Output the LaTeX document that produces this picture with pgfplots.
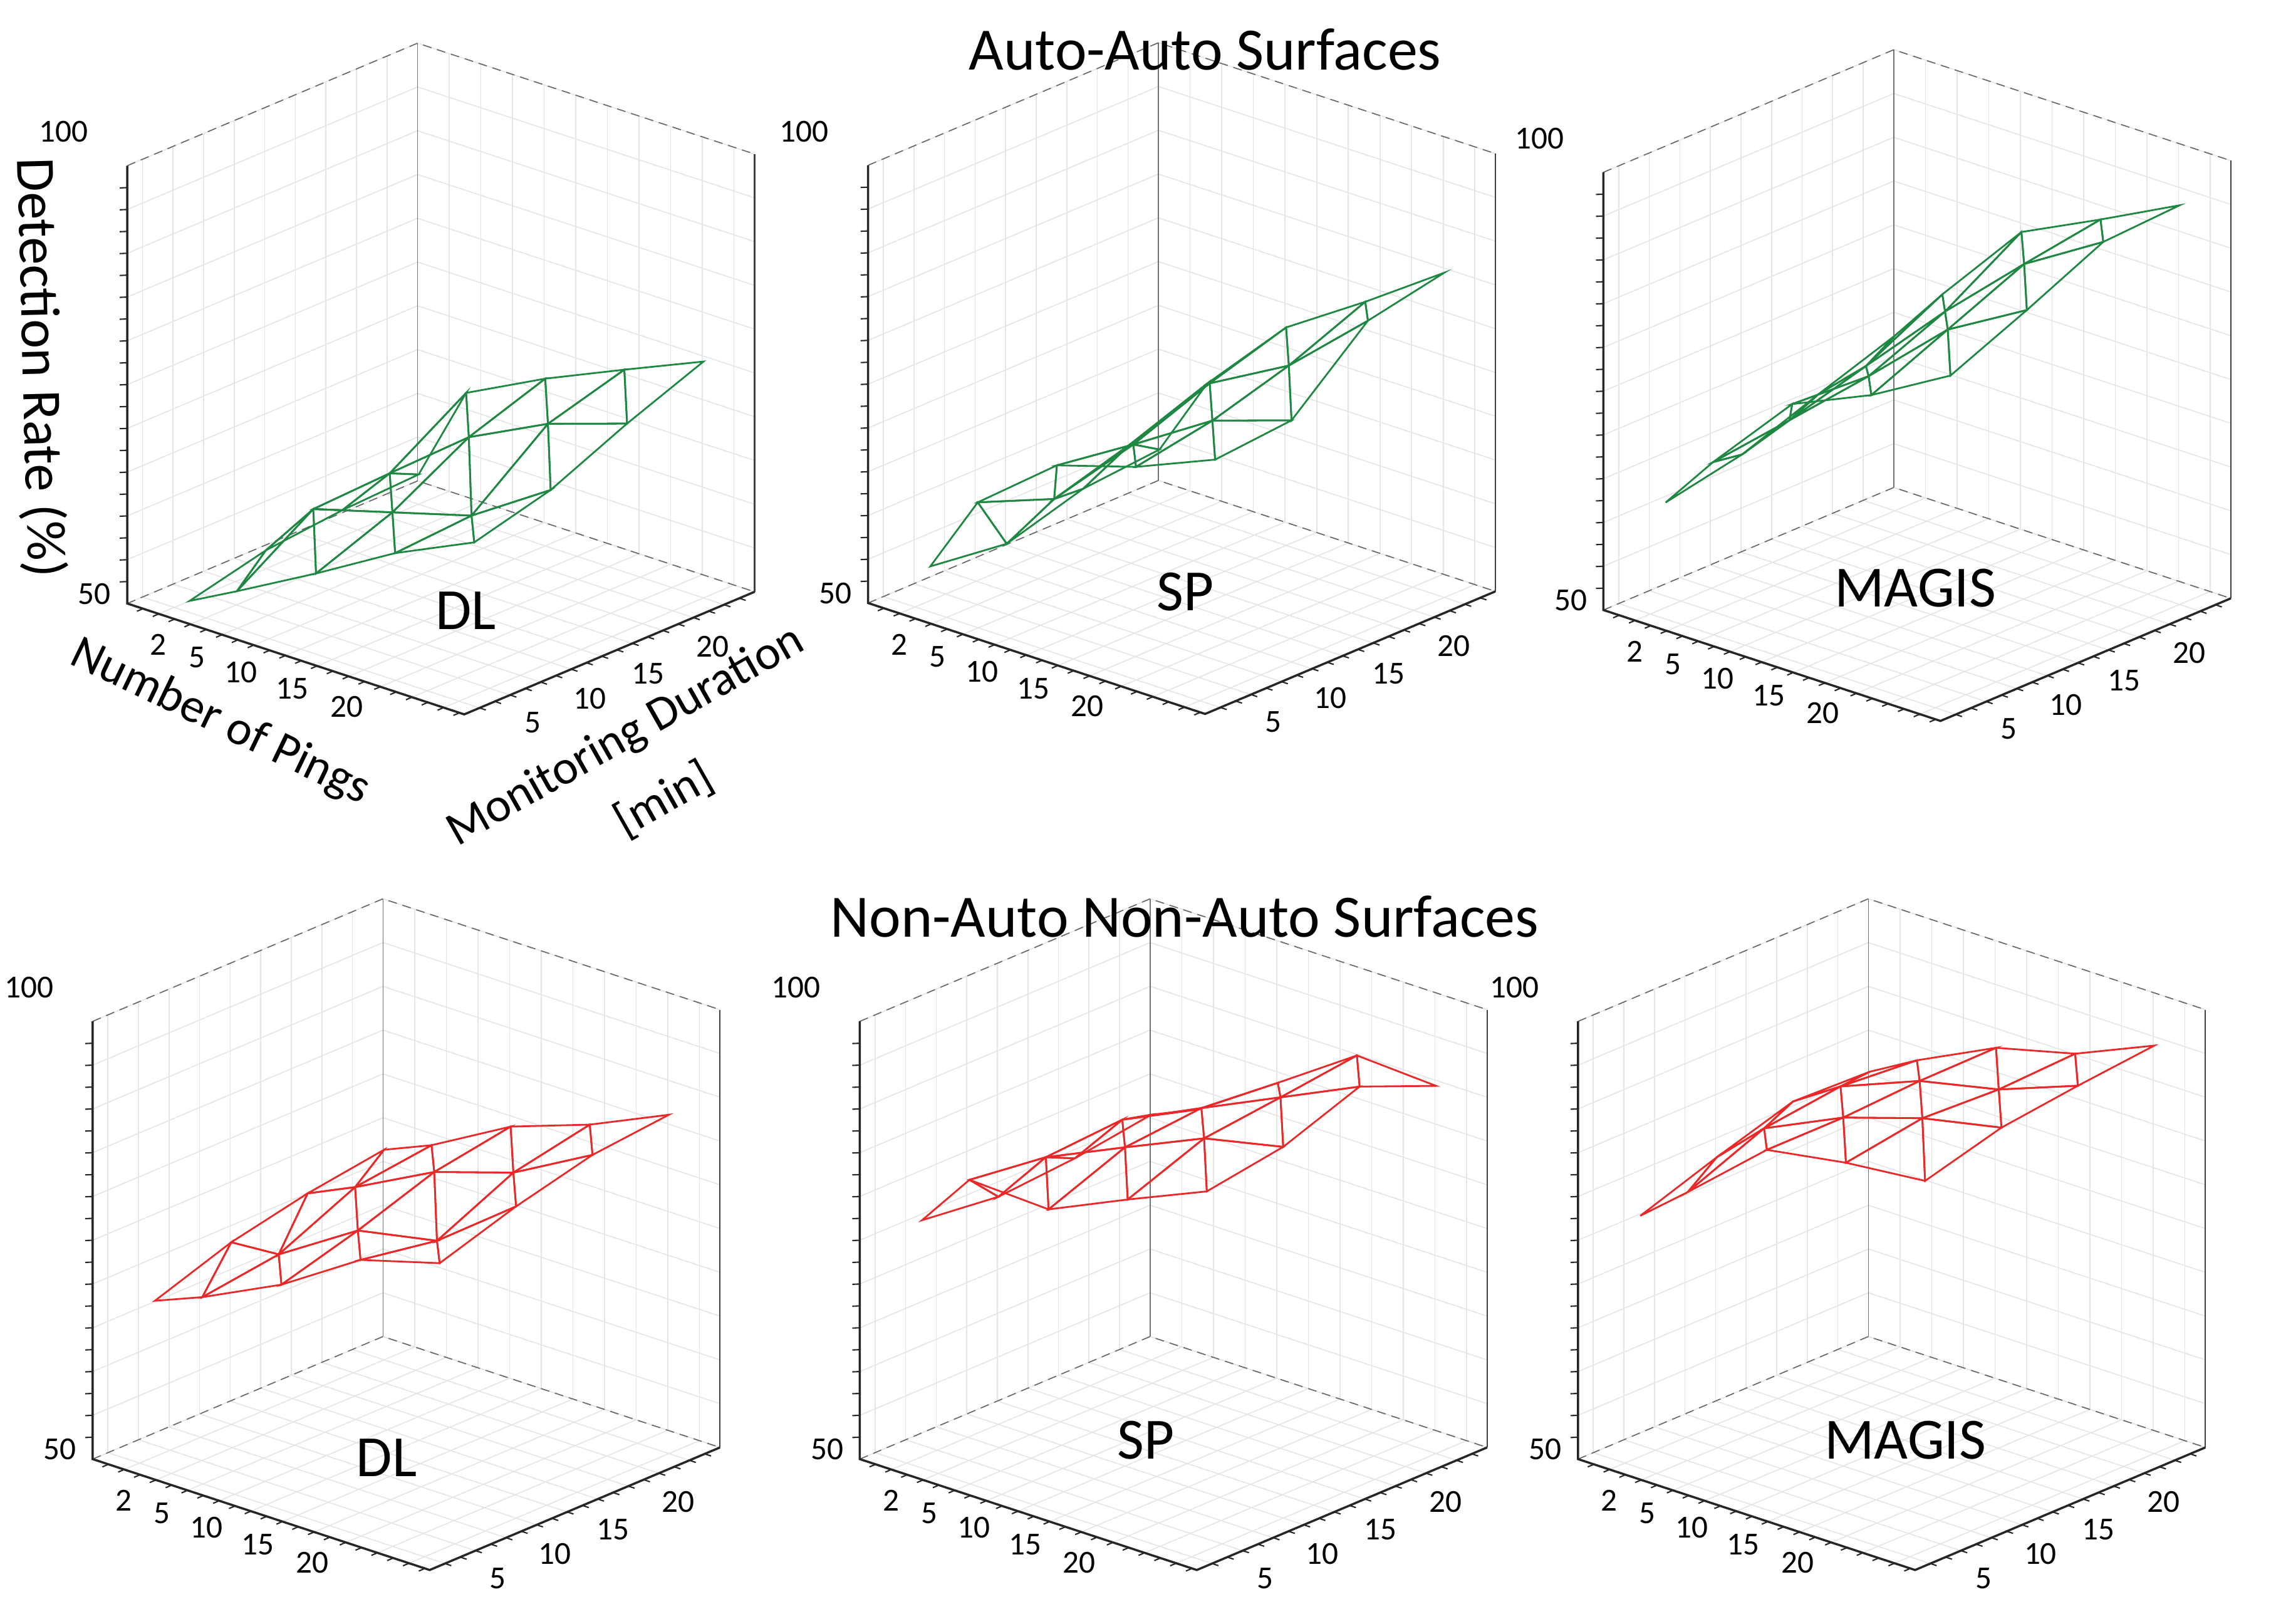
\begin{filecontents*}[overwrite]{tri.dat}
0 1 4
1 4 5
1 2 5
2 5 6
2 3 6
3 6 7
4 5 8
5 8 9
5 6 9
6 9 10
6 7 10
7 10 11
8 9 12
9 12 13
9 10 13
10 13 14
10 11 14
11 14 15
12 13 16
13 16 17
13 14 17
14 17 18
14 15 18
15 18 19
\end{filecontents*}
\documentclass[border=0pt]{standalone}
\usepackage{pgfplots}
\pgfplotsset{compat=1.18}
\usepackage{pgfplotstable}
\usepackage{fontspec}
\setmainfont{Carlito}

\pgfplotsset{
  colormap={greenmap}{rgb255=(30,135,65) rgb255=(30,135,65)},
  colormap={redmap}{rgb255=(235,40,40) rgb255=(235,40,40)},
}

\pgfplotstableread{
x y z
2 5 50.0
2 10 52.1
2 15 53.0
2 20 53.4
5 5 52.9
5 10 58.6
5 15 59.0
5 20 64.5
10 5 57.9
10 10 61.2
10 15 66.1
10 20 69.1
15 5 63.2
15 10 63.8
15 15 70.6
15 20 73.1
20 5 67.4
20 10 69.7
20 15 73.6
20 20 77.0
}\dlauto

\pgfplotstableread{
x y z
2 5 53.9
2 10 52.8
2 15 55.4
2 20 56.2
5 5 63.0
5 10 59.7
5 15 62.3
5 20 65.5
10 5 70.2
10 10 68.9
10 15 72.2
10 20 74.9
15 5 73.0
15 10 74.6
15 15 77.2
15 20 80.8
20 5 76.8
20 10 77.6
20 15 85.3
20 20 87.1
}\spauto

\pgfplotstableread{
x y z
2 5 62.0
2 10 63.8
2 15 67.0
2 20 70.0
5 5 68.4
5 10 69.5
5 15 72.0
5 20 76.5
10 5 78.0
10 10 77.5
10 15 81.2
10 20 86.6
15 5 82.0
15 10 85.8
15 15 89.6
15 20 91.0
20 5 87.2
20 10 91.0
20 15 95.1
20 20 95.6
}\magisauto

\pgfplotstableread{
x y z
2 5 67.8
2 10 70.8
2 15 72.7
2 20 74.0
5 5 70.0
5 10 71.2
5 15 75.2
5 20 76.3
10 5 74.4
10 10 76.9
10 15 79.9
10 20 81.4
15 5 80.2
15 10 78.7
15 15 82.8
15 20 84.6
20 5 82.8
20 10 85.6
20 15 87.8
20 20 88.7
}\dlnon

\pgfplotstableread{
x y z
2 5 77.0
2 10 76.0
2 15 76.7
2 20 78.0
5 5 83.4
5 10 82.3
5 15 82.9
5 20 80.4
10 5 83.0
10 10 86.4
10 15 87.2
10 20 86.4
15 5 87.1
15 10 90.4
15 15 91.4
15 20 92.5
20 5 91.0
20 10 92.4
20 15 95.6
20 20 92.0
}\spnon

\pgfplotstableread{
x y z
2 5 77.5
2 10 80.5
2 15 83.2
2 20 82.9
5 5 82.0
5 10 85.6
5 15 86.7
5 20 86.0
10 5 89.8
10 10 89.8
10 15 90.3
10 20 90.4
15 5 91.3
15 10 92.7
15 15 92.3
15 20 92.7
20 5 92.2
20 10 94.6
20 15 95.7
20 20 96.6
}\magisnon

% box edges and tick marks (axis decoration only)
\newcommand{\boxlines}{%
  \draw[black!55, line width=0.35pt] (axis cs:0,22,50) -- (axis cs:0,22,100);
  \draw[black!60, densely dashed, line width=0.35pt] (axis cs:0,3,50) -- (axis cs:0,22,50) -- (axis cs:21.3,22,50);
  \draw[black!60, densely dashed, line width=0.35pt] (axis cs:0,3,100) -- (axis cs:0,22,100) -- (axis cs:21.3,22,100);
  \draw[black!75, line width=0.45pt] (axis cs:21.3,22,50) -- (axis cs:21.3,22,100);
  \draw[black!85, line width=0.75pt] (axis cs:0,3,100) -- (axis cs:0,3,50) -- (axis cs:21.3,3,50) -- (axis cs:21.3,22,50);
  \pgfplotsinvokeforeach{1,...,21}{\draw[black!85, line width=0.45pt] (axis cs:##1,3,50) -- (axis cs:##1,2.6,50);}
  \pgfplotsinvokeforeach{4,...,21}{\draw[black!85, line width=0.45pt] (axis cs:21.3,##1,50) -- (axis cs:21.7,##1,50);}
  \pgfplotsinvokeforeach{52.5,55,...,97.5}{\draw[black!85, line width=0.45pt] (axis cs:0,3,##1) -- (axis cs:-0.24,2.76,##1);}
}

\pgfplotsset{
  panel/.style={
    anchor=origin,
    x={(5.4225pt,-1.784pt)}, y={(5.237pt,2.2105pt)}, z={(0pt,3pt)},
    xmin=0, xmax=21.3, ymin=3, ymax=22, zmin=50, zmax=100,
    clip=false,
    axis line style={draw=none},
    grid=major,
    major grid style={draw=black!10, line width=0.35pt},
    xtick={2,4,...,20}, ytick={4,6,...,22}, ztick={50,55,...,100},
    xticklabels={}, yticklabels={},
    zticklabels={50,,,,,,,,,,},
    extra x ticks={2.71,5.13,7.93,11.18,14.6},
    extra x tick labels={2,5,10,15,20},
    extra x tick style={grid=none,
      xticklabel style={anchor=center, xshift=-4pt, yshift=-9.35pt}},
    extra y ticks={6.71,10.44,14.25,18.5},
    extra y tick labels={5,10,15,20},
    extra y tick style={grid=none,
      yticklabel style={anchor=center, xshift=4pt, yshift=-11pt}},
    extra z ticks={100},
    extra z tick labels={100},
    extra z tick style={grid=none,
      zticklabel style={anchor=east, xshift=-7.85pt, yshift=8.3pt}},
    zticklabel style={anchor=east, xshift=-5.45pt, yshift=3.35pt},
    tick style={draw=none},
    ticklabel style={font=\fontsize{11}{13}\selectfont, inner sep=0pt},
  },
  meshstyle/.style={mesh, patch type=triangle, patch table={tri.dat}, line width=0.6pt},
}

\begin{document}
\begin{tikzpicture}
\useasboundingbox (0,0) rectangle (780pt,556.5pt);

% ---------------- top row ----------------
\begin{axis}[panel, at={(43.6pt,349.7pt)}, colormap name=greenmap]
\boxlines
\addplot3[meshstyle] table {\dlauto};
\end{axis}

\begin{axis}[panel, at={(297.5pt,349.85pt)}, colormap name=greenmap]
\boxlines
\addplot3[meshstyle] table {\spauto};
\end{axis}

\begin{axis}[panel, at={(549.5pt,347.45pt)}, colormap name=greenmap]
\boxlines
\addplot3[meshstyle] table {\magisauto};
\end{axis}

% ---------------- bottom row ----------------
\begin{axis}[panel, at={(31.75pt,56.5pt)}, colormap name=redmap]
\boxlines
\addplot3[meshstyle] table {\dlnon};
\end{axis}

\begin{axis}[panel, at={(294.65pt,56.5pt)}, colormap name=redmap]
\boxlines
\addplot3[meshstyle] table {\spnon};
\end{axis}

\begin{axis}[panel, at={(540.8pt,56.5pt)}, colormap name=redmap]
\boxlines
\addplot3[meshstyle] table {\magisnon};
\end{axis}

% ---------------- titles and labels ----------------
\node[anchor=base, font=\fontsize{20.6}{24}\selectfont] at (413pt,532.5pt) {Auto-Auto Surfaces};
\node[anchor=base, font=\fontsize{20.6}{24}\selectfont] at (406pt,235.5pt) {Non-Auto Non-Auto Surfaces};

\node[font=\fontsize{20}{24}\selectfont] at (159.6pt,347.3pt) {DL};
\node[font=\fontsize{20}{24}\selectfont] at (406.2pt,353.65pt) {SP};
\node[font=\fontsize{20}{24}\selectfont] at (656.35pt,355pt) {MAGIS};
\node[font=\fontsize{20}{24}\selectfont] at (132.5pt,57pt) {DL};
\node[font=\fontsize{20}{24}\selectfont] at (392.7pt,63pt) {SP};
\node[font=\fontsize{20}{24}\selectfont] at (652.9pt,63pt) {MAGIS};

\node[rotate=-88.5, font=\fontsize{19}{22}\selectfont] at (13.5pt,430.5pt) {Detection Rate (\%)};
\node[rotate=-25.7, font=\fontsize{16.5}{20}\selectfont] at (75.5pt,309pt) {Number of Pings};
\node[rotate=29.5, font=\fontsize{16.5}{20}\selectfont] at (214.5pt,304pt) {Monitoring Duration};
\node[rotate=29.5, font=\fontsize{16.5}{20}\selectfont] at (227.5pt,282.5pt) {[min]};
\end{tikzpicture}
\end{document}
